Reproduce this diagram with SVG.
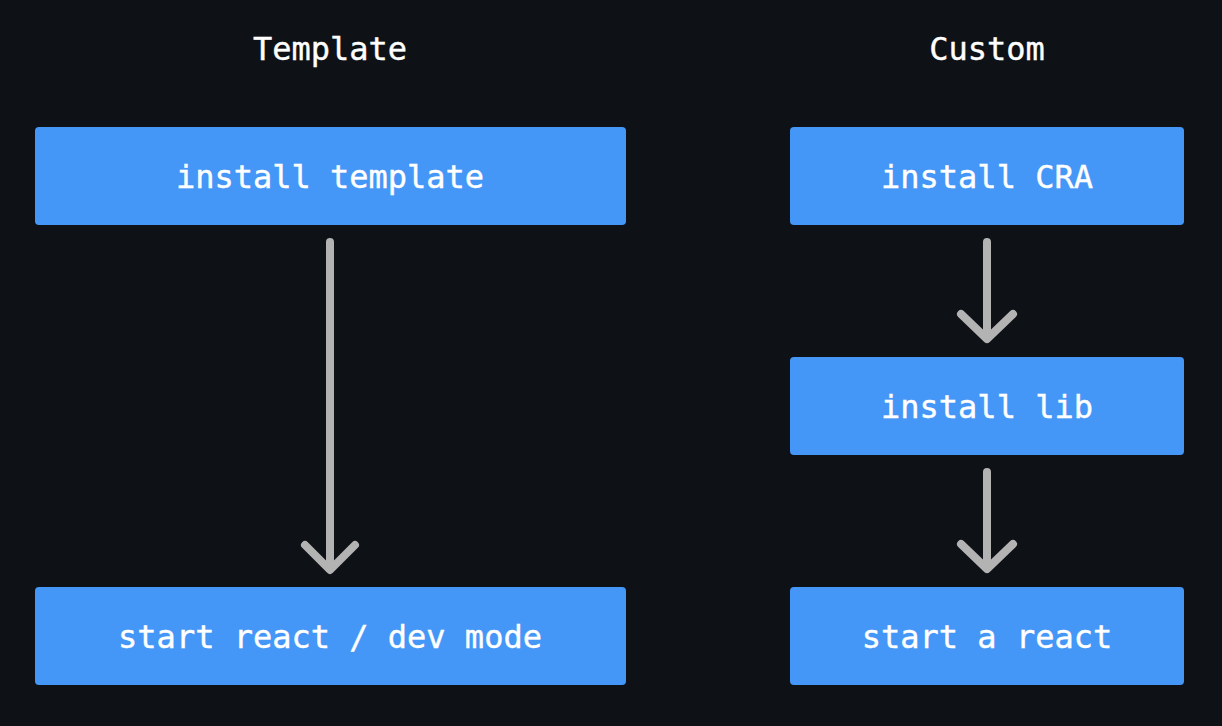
<svg xmlns="http://www.w3.org/2000/svg" width="1222" height="726" viewBox="0 0 1222 726">
<style>
.bg{fill:#0e1116}
.box{fill:#4597f7}
.t{font-family:"DejaVu Sans Mono","Liberation Mono",monospace;font-size:32px;fill:#ffffff;text-anchor:middle;dominant-baseline:central;stroke:#ffffff;stroke-width:0.4}
.c{fill:none;stroke:#b3b3b3;stroke-width:8;stroke-linecap:round;stroke-linejoin:round}
</style>
<rect class="bg" x="0" y="0" width="1222" height="726"/>
<text class="t" x="330" y="49">Template</text>
<text class="t" x="987" y="49">Custom</text>
<g id="install-template"><rect class="box" x="35" y="127" width="591" height="98" rx="4"/><text class="t" x="330" y="177">install template</text></g>
<g id="start-react-dev"><rect class="box" x="35" y="587" width="591" height="98" rx="4"/><text class="t" x="330" y="637">start react / dev mode</text></g>
<g id="install-cra"><rect class="box" x="790" y="127" width="394" height="98" rx="4"/><text class="t" x="987" y="177">install CRA</text></g>
<g id="install-lib"><rect class="box" x="790" y="357" width="394" height="98" rx="4"/><text class="t" x="987" y="407">install lib</text></g>
<g id="start-a-react"><rect class="box" x="790" y="587" width="394" height="98" rx="4"/><text class="t" x="987" y="637">start a react</text></g>
<g id="connectors">
<path class="c" d="M330 242V568M305 545L330 570L355 545"/>
<path class="c" d="M987 242V337M961 314L987 339L1013 314"/>
<path class="c" d="M987 472V567M961 544L987 569L1013 544"/>
</g>
</svg>
